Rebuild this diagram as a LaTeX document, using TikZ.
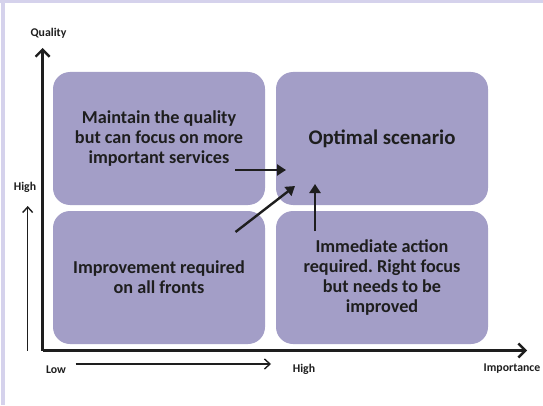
\documentclass[tikz,border=0pt]{standalone}
\usepackage{fontspec}
\setmainfont{Carlito}
\frenchspacing
\usetikzlibrary{arrows.meta,positioning}
\definecolor{qbox}{HTML}{A39EC7}
\definecolor{qframe}{HTML}{D5D2EC}
\definecolor{qdark}{HTML}{1E1E1E}

\begin{document}
\begin{tikzpicture}[x=1pt, y=1pt,
    every node/.style={font=\bfseries, text=qdark},
    quadrant/.style={fill=qbox, rounded corners=17pt, minimum width=212pt,
      minimum height=133pt, align=center, font=\bfseries\fontsize{18.2}{20.3}\selectfont},
    axislabel/.style={font=\bfseries\fontsize{11.8}{13}\selectfont},
    axisline/.style={qdark, line width=2.6pt, -{Straight Barb[length=7pt, width=14pt, line width=2.4pt]}},
    guide/.style={qdark, line width=1.2pt, -{Straight Barb[length=5.5pt, width=10pt, line width=1.4pt]}},
    gain/.style={qdark, line width=2.4pt, -{Triangle[length=9pt, width=11pt]}}]
  \useasboundingbox (0,0) rectangle (543,405);
  % cadre lavande
  \fill[qframe] (0,402) rectangle (543,405);
  \fill[qframe] (1,0) rectangle (5,405);
  % les quatre quadrants
  \node[quadrant] (maintain) at (159,266.5) {Maintain the quality\\but can focus on more\\important services};
  \node[quadrant, font=\bfseries\fontsize{20.8}{24}\selectfont] (optimal) at (382,266.5) {Optimal scenario};
  \node[quadrant] (improve) at (159,127.5) {Improvement required\\on all fronts};
  \node[quadrant] (immediate) at (382,127.5) {Immediate action\\required. Right focus\\but needs to be\\improved};
  % axes
  \coordinate (origin) at (42.6,54.5);
  \coordinate (qtop) at (42.6,357);
  \coordinate (iend) at (527,54.5);
  \draw[axisline] (origin) -- (qtop);
  \draw[axisline] (origin) -- (iend);
  \node[axislabel] (quality) at (48.5,371.4) {Quality};
  \node[axislabel] (importance) at (512,36) {Importance};
  % reperes bas / haut
  \node[axislabel] (highq) at (25,218) {High};
  \coordinate (qlow) at (27.7,54.5);
  \coordinate (qhigh) at (27.7,199);
  \draw[guide] (qlow) -- (qhigh);
  \node[axislabel] (low) at (56,35) {Low};
  \node[axislabel] (highi) at (304,36) {High};
  \coordinate (ilow) at (75.5,41);
  \coordinate (ihigh) at (271,41);
  \draw[guide] (ilow) -- (ihigh);
  % deplacements vers le scenario optimal
  \coordinate (fromtl) at (235,235);
  \coordinate (totl) at (286,235);
  \coordinate (frombl) at (235.5,173);
  \coordinate (tobl) at (295,219);
  \coordinate (frombr) at (315,174);
  \coordinate (tobr) at (315,221);
  \draw[gain] (fromtl) -- (totl);
  \draw[gain] (frombl) -- (tobl);
  \draw[gain] (frombr) -- (tobr);
\end{tikzpicture}
\end{document}
